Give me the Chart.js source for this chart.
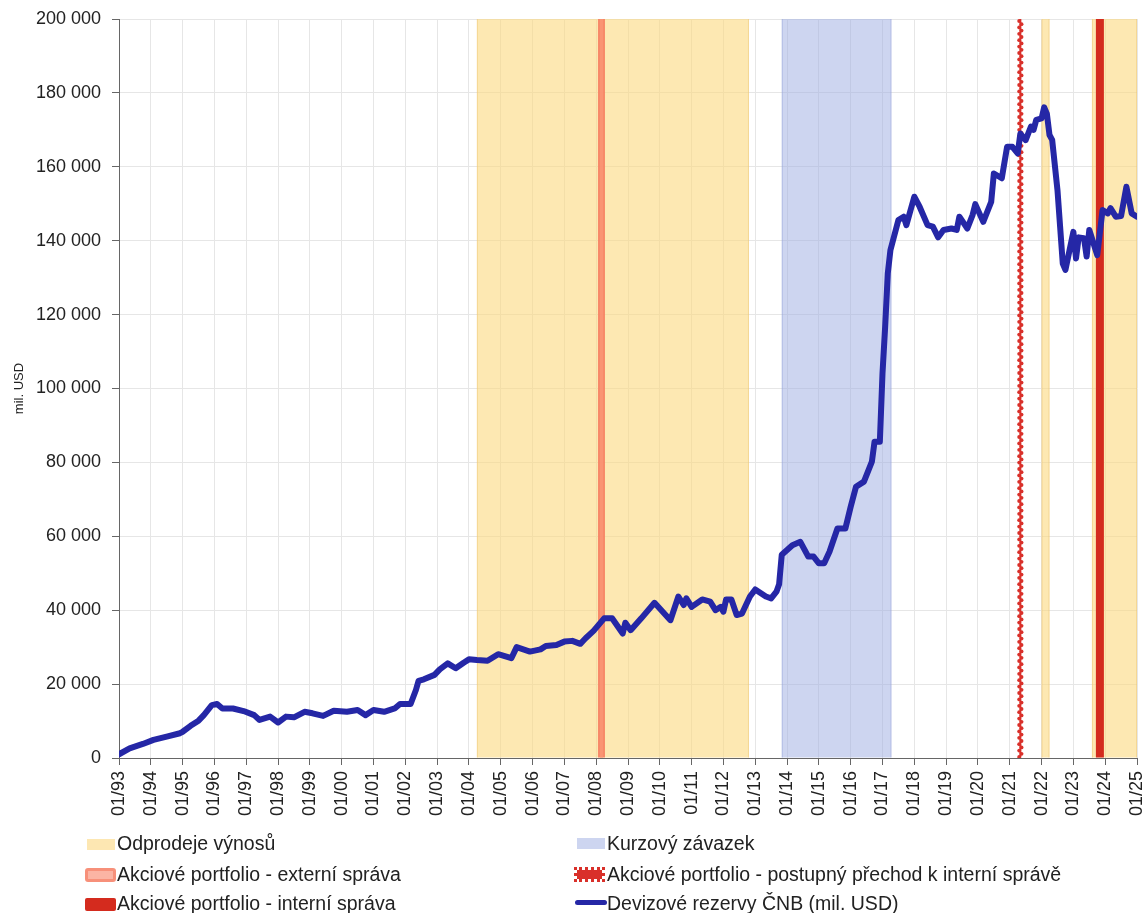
<!DOCTYPE html>
<html><head><meta charset="utf-8">
<script src="https://cdn.jsdelivr.net/npm/chart.js@4.4.1/dist/chart.umd.min.js"></script>
<style>
html,body{margin:0;padding:0;background:#fff;}
#wrap{position:relative;width:1145px;height:913px;overflow:hidden;font-family:"Liberation Sans",Arial,sans-serif;}
canvas{position:absolute;left:0;top:0;}
.lg{position:absolute;font-size:19.5px;color:#222;line-height:22px;white-space:nowrap;}
.mk{position:absolute;box-sizing:border-box;}
</style></head><body>
<div id="wrap"><canvas id="c" width="1145" height="913"></canvas><div id="legend"></div></div>
<script>
// ---- data ----
const months = ["1993-01","1993-05","1993-10","1994-02","1994-07","1994-12","1995-01","1995-04","1995-07","1995-09","1995-12",
"1996-02","1996-04","1996-08","1996-12","1997-04","1997-06","1997-10","1998-01","1998-04","1998-07","1998-11",
"1999-02","1999-06","1999-10","2000-03","2000-07","2000-10","2001-01","2001-05","2001-09","2001-11",
"2002-03","2002-05","2002-06","2002-08","2002-12","2003-02","2003-05","2003-08","2003-11","2004-01","2004-04","2004-08","2004-12",
"2005-05","2005-07","2005-12","2006-04","2006-06","2006-10","2007-01","2007-04","2007-07","2007-09","2007-12",
"2008-04","2008-07","2008-11","2008-12","2009-02","2009-06","2009-11","2010-05","2010-08","2010-10","2010-11",
"2011-01","2011-05","2011-08","2011-10","2011-12","2012-01","2012-02","2012-04","2012-06","2012-08","2012-11",
"2013-01","2013-05","2013-07","2013-09","2013-10","2013-11","2014-01","2014-03","2014-06","2014-09","2014-11",
"2015-01","2015-03","2015-05","2015-08","2015-11","2016-01","2016-03","2016-06","2016-09","2016-10","2016-12",
"2017-01","2017-02","2017-03","2017-04","2017-07","2017-09","2017-10","2018-01","2018-03","2018-06","2018-08","2018-10","2018-12",
"2019-03","2019-05","2019-06","2019-09","2019-11","2019-12","2020-03","2020-06","2020-07","2020-10","2020-12",
"2021-02","2021-04","2021-05","2021-07","2021-09","2021-10","2021-11","2022-01","2022-02","2022-03","2022-04","2022-05",
"2022-07","2022-08","2022-09","2022-10","2023-01","2023-02","2023-03","2023-05","2023-06","2023-07","2023-10","2023-12",
"2024-02","2024-03","2024-05","2024-07","2024-09","2024-11","2025-01"];
const reserves = [1000,2600,3800,4900,5800,6700,7100,8700,10100,11600,14300,
14600,13400,13400,12700,11600,10300,11200,9600,11200,11000,12500,
12100,11400,12800,12500,13000,11600,13000,12500,13400,14600,
14600,18400,20900,21300,22500,24000,25600,24300,25800,26700,26500,26300,28100,
27000,30000,28800,29400,30300,30600,31500,31700,30900,32400,34400,
37800,37800,33700,36600,34600,37800,42000,37300,43700,41400,43200,
40900,42900,42300,40000,40900,39600,42900,42900,38700,39100,43700,
45600,43700,43200,45000,47000,55000,56300,57600,58500,54500,54500,
52700,52700,55800,62100,62100,68000,73400,74800,80200,85600,85600,
104100,116700,131200,137500,145600,146500,144200,151900,149200,144200,143800,140900,142900,
143300,142900,146500,143300,147000,149900,145100,150500,158200,156900,165400,
165400,163600,169000,167200,170900,170000,172700,173100,176100,174400,168600,167300,
153700,143800,133800,132100,142400,135200,140900,140700,135700,142900,136100,148300,
147400,148800,146500,146700,154600,147400,146500];
const yTicks = [0,20000,40000,60000,80000,100000,120000,140000,160000,180000,200000];
const salesBands = [["2004-04","2012-10-20"],["2022-01","2022-04"],["2023-08","2025-01"]];
const pegBands = [["2013-11","2017-04-12"]];
const externalStart = ["2008-03"];
const transitionStart = ["2021-05"];
const internalStart = ["2023-11"];
const legendLabels = ["Odprodeje výnosů","Kurzový závazek","Akciové portfolio - externí správa",
"Akciové portfolio - postupný přechod k interní správě","Akciové portfolio - interní správa","Devizové rezervy ČNB (mil. USD)"];

// ---- helpers ----
const toM = s => { const p = s.split('-').map(Number); return (p[0]-1993)*12 + (p[1]-1) + (p[2] ? (p[2]-1)/30 : 0); };
const fmt = v => String(v).replace(/\B(?=(\d{3})+(?!\d))/g, ' ');

const overlay = {
  id: 'overlay',
  beforeDatasetsDraw(chart) {
    const {ctx, chartArea: a, scales: {x}} = chart;
    const h = a.bottom - a.top - 0.5;
    ctx.save();
    ctx.beginPath(); ctx.rect(a.left, a.top, a.right - a.left, a.bottom - a.top); ctx.clip();
    const band = (list, fill, edge) => list.forEach(([s, e]) => {
      const x0 = x.getPixelForValue(toM(s)), x1 = x.getPixelForValue(toM(e));
      ctx.fillStyle = fill; ctx.fillRect(x0, a.top, x1 - x0, h);
      ctx.fillStyle = edge; ctx.fillRect(x0, a.top, 1, h); ctx.fillRect(x1 - 1, a.top, 1, h);
    });
    band(salesBands, 'rgba(252,217,127,0.6)', 'rgba(235,195,110,0.45)');
    band(pegBands, 'rgba(155,171,225,0.5)', 'rgba(140,155,215,0.4)');
    externalStart.forEach(s => {
      const px = x.getPixelForValue(toM(s));
      ctx.fillStyle = 'rgba(246,128,98,0.9)'; ctx.fillRect(px - 3.5, a.top, 7, h);
      ctx.fillStyle = 'rgba(250,150,118,0.8)'; ctx.fillRect(px - 1.5, a.top, 3, h);
    });
    transitionStart.forEach(s => {
      const px = x.getPixelForValue(toM(s));
      ctx.fillStyle = '#d9302a'; ctx.fillRect(px - 1, a.top, 2, h);
      let k = 0;
      for (let y = a.top + 2; y < a.bottom; y += 3.2, k++) {
        ctx.beginPath(); ctx.arc(px + (k % 2 ? 1.2 : -1.2), y, 1.9, 0, Math.PI * 2); ctx.fill();
      }
    });
    internalStart.forEach(s => {
      const px = x.getPixelForValue(toM(s));
      ctx.fillStyle = '#d42b1e'; ctx.fillRect(px - 4, a.top, 8, h);
    });
    ctx.restore();
  }
};

const font = '"Liberation Sans", Arial, sans-serif';
new Chart(document.getElementById('c'), {
  type: 'line',
  data: { datasets: [{
    label: legendLabels[5],
    data: months.map((m, i) => ({x: toM(m), y: reserves[i]})),
    borderColor: '#2527a6', borderWidth: 6, pointRadius: 0, tension: 0,
    borderJoinStyle: 'round', borderCapStyle: 'round', fill: false
  }]},
  options: {
    responsive: false, animation: false, events: [],
    layout: { padding: { top: 19, right: 8, bottom: 83, left: 0 } },
    plugins: { legend: { display: false }, tooltip: { enabled: false } },
    scales: {
      x: {
        type: 'linear', min: 0, max: 384,
        afterFit: s => { s.height = 72; s.paddingLeft = 0; s.paddingRight = 0; },
        grid: { color: '#e6e6e6', tickColor: '#666', tickLength: 7 },
        border: { color: '#666' },
        ticks: { stepSize: 12, autoSkip: false, minRotation: 90, maxRotation: 90, padding: 6,
          color: '#222', font: { family: font, size: 18 },
          callback: v => '01/' + String((93 + v / 12) % 100).padStart(2, '0') }
      },
      y: {
        min: 0, max: 200000,
        afterFit: s => { s.width = 119; s.paddingTop = 0; s.paddingBottom = 0; },
        afterBuildTicks: s => { s.ticks = yTicks.map(v => ({value: v})); },
        grid: { color: '#e6e6e6', tickColor: '#666', tickLength: 7 },
        border: { color: '#666' },
        title: { display: true, text: 'mil. USD', color: '#222', font: { family: font, size: 13 }, padding: { top: 12, bottom: 0 } },
        ticks: { padding: 11, color: '#222', font: { family: font, size: 18 }, callback: v => fmt(v) }
      }
    }
  },
  plugins: [overlay]
});

// ---- legend (HTML) ----
const rowsY = [843, 874, 903];
const colsX = [117, 607];
const markers = [
  {l: 87, t: 839, w: 28, h: 11, css: 'background:#fde7b2;'},
  {l: 577, t: 838, w: 28, h: 11, css: 'background:#cdd5f0;'},
  {l: 85, t: 868, w: 31, h: 14, css: 'background:#fbb4a4;border:3px solid #f7907a;border-radius:3px;'},
  {l: 574, t: 867, w: 31, h: 15, css: 'background:#d9302a;background-clip:padding-box;border:3px dotted #d9302a;'},
  {l: 85, t: 898, w: 31, h: 13, css: 'background:#d42b1e;border-radius:2px;'},
  {l: 575, t: 900, w: 32, h: 5, css: 'background:#2527a6;border-radius:3px;'}
];
const lg = document.getElementById('legend');
legendLabels.forEach((txt, i) => {
  const m = markers[i];
  const mk = document.createElement('div');
  mk.className = 'mk';
  mk.style.cssText = `left:${m.l}px;top:${m.t}px;width:${m.w}px;height:${m.h}px;` + m.css;
  lg.appendChild(mk);
  const t = document.createElement('div');
  t.className = 'lg';
  t.style.left = colsX[i % 2] + 'px';
  t.style.top = (rowsY[Math.floor(i / 2)] - 11) + 'px';
  t.textContent = txt;
  lg.appendChild(t);
});
</script></body></html>
